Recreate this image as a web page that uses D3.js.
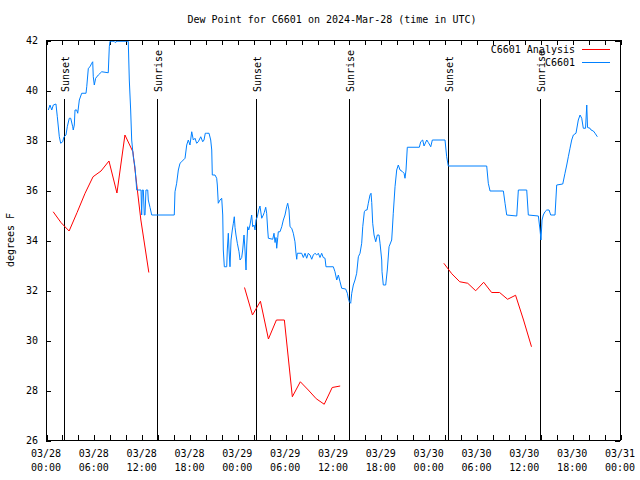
<!DOCTYPE html>
<html>
<head>
<meta charset="utf-8">
<script src="https://cdn.jsdelivr.net/npm/d3@7"></script>
<style>
  html, body { margin: 0; padding: 0; background: #fff; }
  svg { display: block; }
  text { font-family: "DejaVu Sans Mono", "Liberation Mono", monospace; font-size: 10px; fill: #000; }
</style>
</head>
<body>
<svg id="chart" width="640" height="480"></svg>
<script>
// ---- DATA (hours since 2024-03-28 00:00 UTC) ----
const titleText = "Dew Point for C6601 on 2024-Mar-28 (time in UTC)";
const yLabel = "degrees F";
const seriesNames = ["C6601 Analysis", "C6601"];
const yTicks = [26, 28, 30, 32, 34, 36, 38, 40, 42];

const obsHours = [0.29,0.50,0.72,0.92,1.25,1.42,1.67,1.84,2.09,2.26,2.51,2.67,2.92,3.10,3.35,3.42,3.55,3.64,3.85,3.98,
  4.18,4.48,5.02,5.11,5.31,5.52,5.73,5.86,5.93,6.06,6.23,6.56,6.99,7.81,7.94,8.03,8.53,8.66,8.91,10.32,
  10.45,10.62,10.75,10.95,11.16,11.38,11.92,12.00,12.08,12.21,12.33,12.42,12.54,12.76,12.83,13.05,13.26,16.09,16.18,16.39,
  16.60,16.81,17.02,17.22,17.44,17.65,17.85,18.06,18.28,18.48,18.69,18.90,19.10,19.41,19.66,19.82,19.98,20.16,20.45,20.66,
  20.79,20.86,21.20,21.41,21.49,21.61,21.83,22.04,22.17,22.24,22.37,22.67,22.74,22.87,22.96,23.08,23.21,23.37,23.50,23.62,
  23.71,23.83,24.00,24.21,24.34,24.55,24.67,24.84,24.96,25.09,25.18,25.30,25.43,25.59,25.80,25.93,26.09,26.22,26.34,26.51,
  26.68,26.84,27.06,27.26,27.38,27.56,27.68,27.81,27.89,28.44,28.60,28.73,28.85,28.94,29.07,29.14,29.35,29.57,29.77,29.98,
  30.19,30.32,30.48,30.61,30.82,31.02,31.23,31.36,31.45,31.52,31.86,32.07,32.28,32.49,32.70,32.90,33.12,33.33,33.53,33.74,
  33.96,34.16,34.37,34.58,34.78,35.00,35.12,36.04,36.25,36.47,36.67,36.88,37.09,37.59,37.80,37.92,38.05,38.22,38.35,38.55,
  38.76,38.97,39.18,39.39,39.60,39.73,39.93,40.10,40.27,40.43,40.64,40.77,40.86,40.98,41.15,41.36,41.56,41.77,41.90,42.11,
  42.15,42.31,42.61,42.81,43.03,43.36,43.44,43.56,43.78,43.99,44.19,44.41,44.66,44.91,45.03,45.16,45.32,46.83,47.00,47.25,
  47.42,47.76,47.96,48.26,48.46,50.05,50.26,50.46,55.28,55.48,55.70,57.37,57.58,57.79,59.05,59.25,60.30,60.50,61.76,61.97,
  62.09,62.22,62.38,62.59,62.81,63.10,63.31,63.85,64.06,64.82,65.10,65.32,65.52,65.73,65.94,66.15,66.48,66.77,66.99,67.20,
  67.40,67.68,67.83,67.93,68.24,68.37,68.66,68.87,69.16];
const obsValues = [39.2,39.4,39.2,39.4,39.44,38.93,38.13,37.87,37.93,38.13,38.2,38.53,38.87,38.87,38.53,38.4,38.6,39.2,39.2,39.07,
  39.6,39.87,39.87,40.13,40.87,40.93,41.07,41.13,40.53,40.2,40.47,40.6,40.73,40.69,41.73,41.95,41.95,41.9,41.95,41.95,
  40.4,39.2,38.0,37.33,36.93,36.0,36.0,35.0,36.0,36.0,35.0,35.0,36.0,36.0,35.6,35.3,35.0,35.0,35.93,36.27,
  36.8,37.07,37.13,37.2,37.27,37.8,38.0,37.8,38.33,38.0,38.07,37.87,37.93,38.13,37.93,38.0,38.27,38.27,38.27,38.0,
  37.6,36.6,36.6,36.47,36.2,35.47,35.6,35.67,35.0,33.6,32.93,32.93,33.6,34.27,33.6,32.93,34.0,34.4,34.67,34.93,
  34.5,34.2,33.87,33.53,33.2,33.3,33.6,34.2,33.6,32.8,33.8,34.53,34.4,34.6,35.0,34.53,34.6,34.4,34.8,34.93,
  35.2,35.36,34.87,35.0,35.1,35.31,35.07,34.4,34.07,34.03,34.27,33.9,34.1,33.67,34.1,34.33,34.33,34.53,34.8,35.0,
  35.33,35.47,35.2,34.53,34.47,34.27,33.93,33.47,33.23,33.47,33.47,33.47,33.3,33.47,33.27,33.47,33.4,33.23,33.4,33.47,
  33.4,33.47,33.3,33.47,33.3,33.27,32.93,32.93,32.73,32.4,32.6,32.33,32.07,32.04,31.87,31.67,31.53,31.47,31.87,32.2,
  32.4,32.67,33.33,33.47,33.87,34.53,35.13,35.2,35.2,35.47,35.8,35.87,35.5,34.67,34.2,33.93,34.2,34.2,33.87,33.2,
  32.73,32.2,32.2,32.8,33.73,34.0,34.4,35.07,36.13,36.8,37.0,36.8,36.75,36.67,36.47,36.8,37.71,37.71,37.93,38.0,
  37.76,38.0,37.9,37.73,38.0,38.0,37.33,36.96,36.96,36.27,35.96,35.96,35.47,35.0,34.96,36.0,36.0,35.0,34.96,34.4,
  34.0,34.8,35.0,35.13,35.2,35.2,35.0,35.0,36.2,36.24,36.67,37.0,37.33,37.67,38.0,38.2,38.27,38.8,39.0,38.87,
  38.47,38.47,39.4,38.5,38.47,38.4,38.36,38.27,38.13];

// Analysis: three hourly runs, separated by gaps (null)
const anaHours = [0.9,1.9,2.9,3.9,4.9,5.9,6.9,7.9,8.9,9.9,10.9,11.9,12.9, 18.0,
  24.9,25.9,26.9,27.9,28.9,29.9,30.9,31.9,32.9,33.9,34.9,35.9,36.9, 43.0,
  49.9,50.9,51.9,52.9,53.9,54.9,55.9,56.9,57.9,58.9,59.9,60.9];
const anaValues = [35.13,34.69,34.36,35.1,35.87,36.53,36.76,37.16,35.88,38.2,37.53,34.8,32.7, null,
  32.1,31.0,31.55,30.04,30.8,30.8,27.73,28.33,28.0,27.65,27.43,28.1,28.16, null,
  33.07,32.65,32.33,32.27,31.97,32.31,31.9,31.9,31.63,31.79,30.8,29.73];

const sunHours = [2.30, 13.96, 26.38, 38.05, 50.46, 62.0];
const sunLabels = ["Sunset", "Sunrise", "Sunset", "Sunrise", "Sunset", "Sunrise"];

// ---- CHART ----
const svg = d3.select("#chart");
const L = 46, R = 620, T = 40, B = 440;
const t0 = Date.UTC(2024, 2, 28, 0, 0);
const toDate = h => new Date(t0 + h * 3600e3);

const x = d3.scaleUtc().domain([toDate(0), toDate(72)]).range([L, R]);
const y = d3.scaleLinear().domain([26, 42]).range([B, T]);

svg.append("rect").attr("width", 640).attr("height", 480).attr("fill", "#fff");

svg.append("defs").append("clipPath").attr("id", "clip")
  .append("rect").attr("x", L).attr("y", T).attr("width", R - L).attr("height", B - T);

const minorTicks = d3.range(0, 73, 2).map(toDate);
const majorTicks = d3.range(0, 73, 6).map(toDate);

function styleAxis(g) {
  g.select(".domain").remove();
  g.selectAll(".tick line").attr("stroke", "#000").attr("shape-rendering", "crispEdges");
  g.selectAll("text").attr("font-family", "DejaVu Sans Mono, monospace").attr("font-size", 10);
}

svg.append("g").attr("transform", `translate(0.5,${B})`)
  .call(d3.axisBottom(x).tickValues(minorTicks).tickSize(-5).tickFormat(""))
  .call(styleAxis);
svg.append("g").attr("transform", `translate(0.5,${T})`)
  .call(d3.axisTop(x).tickValues(minorTicks).tickSize(-5).tickFormat(""))
  .call(styleAxis);
svg.append("g").attr("transform", `translate(${L},0.5)`)
  .call(d3.axisLeft(y).tickValues(yTicks).tickSize(-5).tickPadding(8).tickFormat(d3.format("d")))
  .call(styleAxis);
svg.append("g").attr("transform", `translate(${R},0.5)`)
  .call(d3.axisRight(y).tickValues(yTicks).tickSize(-5).tickFormat(""))
  .call(styleAxis);

// two-line x labels
const fmtD = d3.utcFormat("%m/%d"), fmtT = d3.utcFormat("%H:%M");
const xl = svg.append("g");
majorTicks.forEach(d => {
  const t = xl.append("text").attr("text-anchor", "middle").attr("x", x(d));
  t.append("tspan").attr("x", x(d)).attr("y", 457).text(fmtD(d));
  t.append("tspan").attr("x", x(d)).attr("y", 471).text(fmtT(d));
});

// sunrise / sunset lines
const sunG = svg.append("g");
sunHours.forEach((h, i) => {
  const xv = Math.round(x(toDate(h))) + 0.5;
  sunG.append("line").attr("x1", xv).attr("x2", xv).attr("y1", 99).attr("y2", B)
    .attr("stroke", "#000").attr("stroke-width", 1).attr("shape-rendering", "crispEdges");
  sunG.append("text").attr("transform", `translate(${xv + 4},92) rotate(-90)`)
    .attr("text-anchor", "start").text(sunLabels[i]);
});

// series
const plot = svg.append("g").attr("clip-path", "url(#clip)");
const obs = obsHours.map((h, i) => [toDate(h), obsValues[i]]);
const ana = anaHours.map((h, i) => [toDate(h), anaValues[i]]);
const line = d3.line().defined(d => d[1] !== null).x(d => x(d[0])).y(d => y(d[1]));

plot.append("path").datum(ana).attr("d", line)
  .attr("fill", "none").attr("stroke", "#ff0000").attr("stroke-width", 1);
plot.append("path").datum(obs).attr("d", line)
  .attr("fill", "none").attr("stroke", "#0080ff").attr("stroke-width", 1);

// frame
svg.append("rect").attr("x", L + 0.5).attr("y", T + 0.5).attr("width", R - L).attr("height", B - T)
  .attr("fill", "none").attr("stroke", "#000").attr("shape-rendering", "crispEdges");

// title and y label
svg.append("text").attr("x", 332).attr("y", 23).attr("text-anchor", "middle").text(titleText);
svg.append("text").attr("transform", "translate(14,240) rotate(-90)").attr("text-anchor", "middle").text(yLabel);

// legend
const legColors = ["#ff0000", "#0080ff"];
const legY = [49.5, 62.5];
seriesNames.forEach((n, i) => {
  svg.append("text").attr("x", 575).attr("y", legY[i] + 3.8).attr("text-anchor", "end").text(n);
  svg.append("line").attr("x1", 582).attr("x2", 610).attr("y1", legY[i]).attr("y2", legY[i])
    .attr("stroke", legColors[i]).attr("stroke-width", 1).attr("shape-rendering", "crispEdges");
});
</script>
</body>
</html>
